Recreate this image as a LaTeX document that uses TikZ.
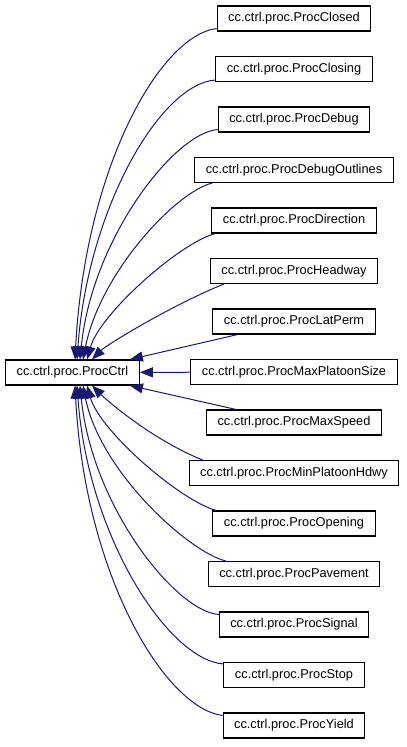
\documentclass[tikz,border=0pt]{standalone}
\usepackage{fontspec}
\setmainfont{Liberation Sans}
\usetikzlibrary{arrows.meta,calc}
\definecolor{edgeblue}{HTML}{191970}
\tikzset{
  cls/.style = {draw=black,line width=0.8pt,fill=white,inner xsep=8.25pt,
                inner ysep=0pt,minimum height=18.75pt,
                font=\fontsize{9.6}{11}\selectfont},
  inh/.style = {-{Triangle[length=9.75pt,width=7.5pt]},draw=edgeblue,
                line width=0.75pt},
}

\begin{document}
\begin{tikzpicture}[x=0.75pt,y=-0.75pt]
  \useasboundingbox (0,0) rectangle (407,747);
  % base class
  \node[cls] (ctrl) at (72.5,372.5) {cc.ctrl.proc.ProcCtrl};
  % derived classes
  \foreach \name/\lbl [count=\i from 0] in {closed/ProcClosed,
      closing/ProcClosing,debug/ProcDebug,dbgout/ProcDebugOutlines,
      direction/ProcDirection,headway/ProcHeadway,latperm/ProcLatPerm,
      maxsize/ProcMaxPlatoonSize,maxspeed/ProcMaxSpeed,
      minhdwy/ProcMinPlatoonHdwy,opening/ProcOpening,pavement/ProcPavement,
      signal/ProcSignal,stop/ProcStop,yield/ProcYield}
    \node[cls] (\name) at (294,18.5+50.5*\i) {cc.ctrl.proc.\lbl};

  % curved edges, upper half and its mirror below
  \foreach \up/\down/\sa/\sb/\ca/\cb/\da/\db/\tx in {
      closed/yield/0/3/57/7/10/191/2.5,
      closing/stop/0/2/55/4/11/151/4.5,
      debug/signal/0/3/43/3/12/121/7.5,
      dbgout/pavement/18/0/37/9/17/86/10.5,
      direction/opening/4/0/35/9/13/46/14.5,
      headway/minhdwy/14/0/50/20/15/15/19.5}{
    \draw[inh] ($(\up.south west)+(\sa,-\sb)$)
      .. controls +(-\ca,\cb) and +(\da,-\db) .. ($(ctrl.north)+(\tx,0)$);
    \draw[inh] ($(\down.north west)+(\sa,\sb)$)
      .. controls +(-\ca,-\cb) and +(\da,\db) .. ($(ctrl.south)+(\tx,0)$);
  }
  % straight edges
  \draw[inh] (latperm) -- ($(ctrl.north east)+(-10,0)$);
  \draw[inh] (maxsize) -- (ctrl);
  \draw[inh] (maxspeed) -- ($(ctrl.south east)+(-10,0)$);
\end{tikzpicture}
\end{document}
